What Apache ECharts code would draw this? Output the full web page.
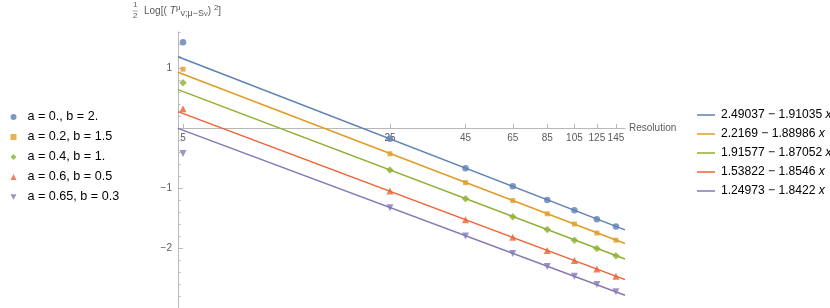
<!DOCTYPE html>
<html>
<head>
<meta charset="utf-8">
<script src="https://cdn.jsdelivr.net/npm/echarts@6/dist/echarts.min.js"></script>
<style>html,body{margin:0;padding:0;background:#fff}#c{width:830px;height:308px}</style>
</head>
<body>
<div id="c"></div>
<script>
// ---- data ----
var resolutions = [5, 25, 45, 65, 85, 105, 125, 145];
var xTickLabels = [5, 25, 45, 65, 85, 105, 125, 145];
var yTickLabels = [-2, -1, 1];
var seriesNames = ['a = 0., b = 2.', 'a = 0.2, b = 1.5', 'a = 0.4, b = 1.', 'a = 0.6, b = 0.5', 'a = 0.65, b = 0.3'];
var valsA = [1.43, -0.18, -0.67, -0.97, -1.20, -1.37, -1.52, -1.64];
var valsB = [0.98, -0.43, -0.91, -1.21, -1.43, -1.60, -1.75, -1.87];
var valsC = [0.755, -0.70, -1.18, -1.48, -1.69, -1.87, -2.01, -2.13];
var valsD = [0.32, -1.05, -1.53, -1.82, -2.04, -2.21, -2.35, -2.47];
var valsE = [-0.425, -1.33, -1.80, -2.09, -2.31, -2.47, -2.61, -2.73];
var fitIntercepts = [2.49037, 2.2169, 1.91577, 1.53822, 1.24973];
var fitSlopes = [1.91035, 1.88986, 1.87052, 1.8546, 1.8422];
var fitLabels = ['2.49037 − 1.91035 x', '2.2169 − 1.88986 x', '1.91577 − 1.87052 x', '1.53822 − 1.8546 x', '1.24973 − 1.8422 x'];

// ---- style ----
var colors = ['#5E81B5', '#E19C24', '#8FB032', '#EB6235', '#8778B3'];
var symbols = ['circle', 'rect', 'diamond', 'triangle', 'path://M0,0L10,0L5,9Z'];
var symbolSizes = [6.5, 5, 7.5, 7, 7];
var FONT = '"Liberation Sans", Arial, sans-serif';
var XMIN = 0.682, XMAX = 2.192;
var GRID_TOP = 32, GRID_BOTTOM = 0, H = 308;

var allVals = [valsA, valsB, valsC, valsD, valsE];
var series = [];
allVals.forEach(function (vals, i) {
  series.push({
    name: seriesNames[i], type: 'scatter', z: 5,
    symbol: symbols[i], symbolSize: symbolSizes[i],
    itemStyle: { color: colors[i] },
    data: resolutions.map(function (r, k) { return [Math.log10(r), vals[k]]; })
  });
});
fitIntercepts.forEach(function (a, i) {
  var b = fitSlopes[i];
  series.push({
    name: fitLabels[i], type: 'line', z: 3, symbol: 'none',
    lineStyle: { color: colors[i], width: 1.5 }, itemStyle: { color: colors[i] },
    data: [[XMIN, a - b * XMIN], [XMAX, a - b * XMAX]]
  });
});

var minorTicks = [];
for (var k = -15; k <= 8; k++) minorTicks.push(Math.round(k * 2) / 10);

var axisCol = '#b8b8b8', labCol = '#5a5a5a';
var chart = echarts.init(document.getElementById('c'));
chart.setOption({
  animation: false,
  textStyle: { fontFamily: FONT },
  grid: { left: 178, right: 205, top: GRID_TOP, bottom: GRID_BOTTOM, containLabel: false, outerBoundsMode: 'none' },
  xAxis: {
    type: 'value', min: XMIN, max: XMAX, position: 'bottom', offset: 0,
    name: 'Resolution', nameLocation: 'end', nameGap: 4,
    nameTextStyle: { color: labCol, fontSize: 10, fontFamily: FONT, verticalAlign: 'middle', align: 'left' },
    axisLine: { onZero: false, lineStyle: { color: axisCol, width: 1 } },
    axisTick: { show: true, inside: true, length: 4, lineStyle: { color: axisCol },
      customValues: xTickLabels.map(function (v) { return Math.log10(v); }) },
    axisLabel: { color: labCol, fontSize: 10, fontFamily: FONT, margin: 5,
      customValues: xTickLabels.map(function (v) { return Math.log10(v); }),
      formatter: function (v) { return String(Math.round(Math.pow(10, v))); } },
    splitLine: { show: false }
  },
  yAxis: [{
    type: 'value', min: -3, max: 1.6,
    axisLine: { show: true, onZero: false, lineStyle: { color: axisCol, width: 1 } },
    axisTick: { show: true, inside: true, length: 5, lineStyle: { color: axisCol }, customValues: [-3, -2, -1, 0, 1] },
    axisLabel: { color: labCol, fontSize: 10, fontFamily: FONT, margin: 6, customValues: yTickLabels,
      formatter: function (v) { return v < 0 ? '\u2212' + Math.abs(v) : String(v); } },
    splitLine: { show: false }
  }, {
    type: 'value', min: -3, max: 1.6, position: 'left',
    axisLine: { show: false, onZero: false },
    axisTick: { show: true, inside: true, length: 2.5, lineStyle: { color: axisCol }, customValues: minorTicks },
    axisLabel: { show: false }, splitLine: { show: false }
  }],
  legend: [{
    data: seriesNames.map(function (n, i) { return { name: n, icon: symbols[i] }; }),
    orient: 'vertical', left: 5.5, top: 105.5,
    itemWidth: 6, itemHeight: 6, itemGap: 7, selectedMode: false,
    textStyle: { color: '#000', fontSize: 12.6, fontFamily: FONT, padding: [0, 0, 0, 6] }
  }, {
    data: fitLabels, orient: 'vertical', left: 692, top: 104,
    icon: 'rect', itemWidth: 18, itemHeight: 1.5, itemGap: 7, selectedMode: false,
    formatter: function (n) { return n.replace(/ x$/, ' ') + '{i|x}'; },
    textStyle: { color: '#000', fontSize: 12.1, fontFamily: FONT, padding: [0, 0, 0, 1],
      rich: { i: { fontStyle: 'italic', fontSize: 12.1, color: '#000', fontFamily: FONT } } }
  }],
  graphic: [
    { type: 'text', left: 133, top: 1, style: { text: '1', fontSize: 8, fill: labCol, fontFamily: FONT } },
    { type: 'line', shape: { x1: 132.5, y1: 11, x2: 138, y2: 11 }, style: { stroke: labCol, lineWidth: 0.5 } },
    { type: 'text', left: 133, top: 12, style: { text: '2', fontSize: 8, fill: labCol, fontFamily: FONT } },
    { type: 'text', left: 144, top: 4, style: {
        text: '{n|Log[( }{t|T}{sp|\u03bc}{sb|\u03bd;\u03bc\u2212S}{sb2|\u03bd}{n|) }{sp|2}{n|]}',
        fill: labCol, fontFamily: FONT,
        rich: {
          n: { fontSize: 10, lineHeight: 14, verticalAlign: 'middle', fill: labCol, fontFamily: FONT },
          t: { fontSize: 10.5, lineHeight: 14, verticalAlign: 'middle', fontStyle: 'italic', fill: labCol, fontFamily: FONT },
          sp: { fontSize: 8, lineHeight: 14, verticalAlign: 'top', fill: labCol, fontFamily: FONT },
          sb: { fontSize: 9, lineHeight: 14, verticalAlign: 'bottom', fill: labCol, fontFamily: FONT },
          sb2: { fontSize: 7.5, lineHeight: 14, verticalAlign: 'bottom', fill: labCol, fontFamily: FONT }
        } } }
  ],
  series: series
});
// move the x axis (line, ticks, labels) so that it crosses the y axis at 0, as in the reference
var zeroPx = chart.convertToPixel({ yAxisIndex: 0 }, 0);
chart.setOption({ xAxis: { offset: -((H - GRID_BOTTOM) - zeroPx) } });
</script>
</body>
</html>
